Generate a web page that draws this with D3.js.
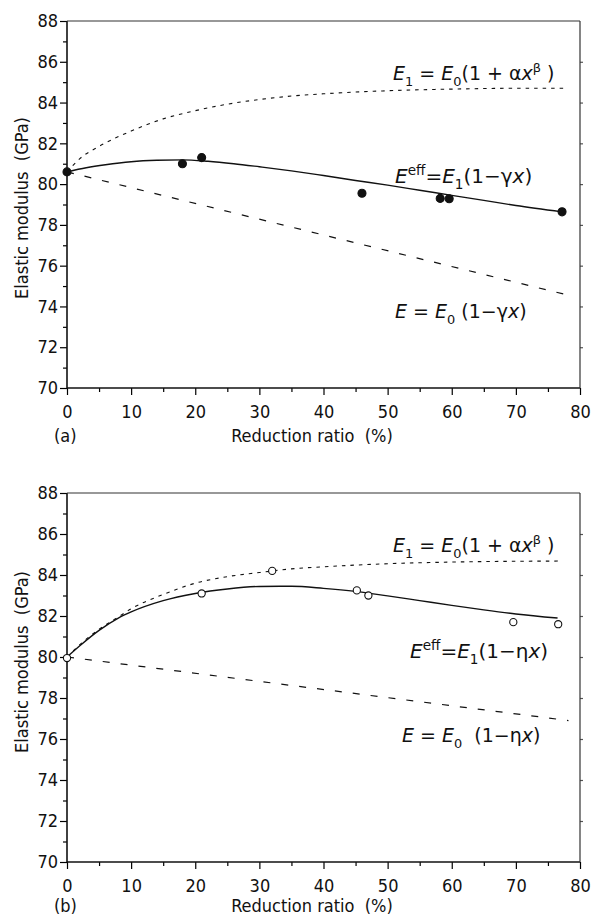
<!DOCTYPE html>
<html>
<head>
<meta charset="utf-8">
<script src="https://cdn.jsdelivr.net/npm/d3@7"></script>
<style>
  html, body { margin: 0; padding: 0; background: #fff; }
  svg { display: block; }
  .tick text, .lbl { font-family: "DejaVu Sans Condensed", "DejaVu Sans", sans-serif; font-stretch: condensed; fill: #111; }
  .eq { font-family: "DejaVu Sans", sans-serif; fill: #111; white-space: pre; }
</style>
</head>
<body>
<script>
// ---------- data ----------
const xTickValues = [0, 10, 20, 30, 40, 50, 60, 70, 80];
const yTickValues = [70, 72, 74, 76, 78, 80, 82, 84, 86, 88];
const xMinorTicks = [5, 15, 25, 35, 45, 55, 65, 75];
const yMinorTicks = [71, 73, 75, 77, 79, 81, 83, 85, 87];

// panel (a)
const aPointsX = [0, 18, 21, 46, 58.2, 59.6, 77.2];
const aPointsY = [80.6, 81.0, 81.3, 79.55, 79.3, 79.28, 78.64];
const aE1X = [0, 2, 5, 10, 15, 20, 25, 30, 35, 40, 50, 60, 70, 78];
const aE1Y = [80.6, 81.25, 81.85, 82.6, 83.2, 83.6, 83.92, 84.15, 84.32, 84.43, 84.58, 84.66, 84.7, 84.7];
const aEeffX = [0, 3, 6, 10, 14, 18, 22, 26, 30, 35, 40, 45, 50, 55, 60, 65, 70, 77.2];
const aEeffY = [80.6, 80.8, 80.95, 81.1, 81.17, 81.19, 81.12, 81.0, 80.85, 80.65, 80.42, 80.18, 79.95, 79.7, 79.45, 79.2, 78.95, 78.64];
const aEX = [0, 78.2];
const aEY = [80.6, 74.55];

// panel (b)
const bPointsX = [0, 21, 32, 45.2, 47, 69.6, 76.6];
const bPointsY = [79.95, 83.1, 84.2, 83.25, 83.0, 81.7, 81.6];
const bE1X = [0, 2, 5, 8, 10, 15, 20, 25, 30, 35, 40, 50, 60, 70, 77];
const bE1Y = [80, 80.6, 81.35, 81.95, 82.35, 83.05, 83.6, 83.92, 84.12, 84.3, 84.4, 84.55, 84.63, 84.67, 84.68];
const bEeffX = [0, 2, 5, 8, 10, 15, 20, 25, 30, 35, 40, 45, 50, 55, 60, 65, 70, 76.5];
const bEeffY = [80, 80.55, 81.3, 81.9, 82.2, 82.75, 83.1, 83.32, 83.44, 83.45, 83.35, 83.2, 82.98, 82.75, 82.52, 82.3, 82.1, 81.9];
const bEX = [0, 78.2];
const bEY = [80, 76.9];

const xTitle = "Reduction ratio  (%)";
const yTitle = "Elastic modulus  (GPa)";

// ---------- drawing ----------
const W = 593, H = 916;
const svg = d3.select("body").append("svg").attr("width", W).attr("height", H);

function zip(xs, ys) { return xs.map((x, i) => [x, ys[i]]); }

function eq(g, x, y, parts, size) {
  const t = g.append("text").attr("class", "eq").attr("x", x).attr("y", y).style("font-size", size + "px");
  let shift = 0;
  parts.forEach(p => {
    const off = p.sub ? size * 0.32 : (p.sup ? -size * 0.42 : 0);
    t.append("tspan")
      .attr("dy", off - shift)
      .style("font-size", (p.sub || p.sup ? size * 0.68 : size) + "px")
      .style("font-style", p.i ? "italic" : "normal")
      .text(p.t);
    shift = off;
  });
}

function panel(opts) {
  const { top, bottom, left, right } = opts;
  const x = d3.scaleLinear().domain([0, 80]).range([left, right]);
  const y = d3.scaleLinear().domain([70, 88]).range([bottom, top]);
  const g = svg.append("g");

  // minor ticks
  g.append("g").attr("transform", `translate(${left},0)`)
    .call(d3.axisLeft(y).tickValues(yMinorTicks).tickSize(4).tickFormat(""))
    .call(s => s.select(".domain").remove());
  g.append("g").attr("transform", `translate(0,${bottom})`)
    .call(d3.axisBottom(x).tickValues(xMinorTicks).tickSize(4).tickFormat(""))
    .call(s => s.select(".domain").remove());
  // major ticks
  const ya = g.append("g").attr("transform", `translate(${left},0)`)
    .call(d3.axisLeft(y).tickValues(yTickValues).tickSize(7).tickPadding(2).tickFormat(d3.format("d")));
  ya.select(".domain").remove();
  ya.selectAll("text").style("font-size", "18px");
  const xa = g.append("g").attr("transform", `translate(0,${bottom})`)
    .call(d3.axisBottom(x).tickValues(xTickValues).tickSize(7).tickPadding(10).tickFormat(d3.format("d")));
  xa.select(".domain").remove();
  xa.selectAll("text").style("font-size", "18px");
  // right-side small ticks
  g.append("g").attr("transform", `translate(${right},0)`)
    .call(d3.axisRight(y).tickValues(yTickValues.slice(1, -1)).tickSize(3).tickFormat(""))
    .call(s => s.select(".domain").remove())
    .selectAll("line").attr("stroke", "#555");
  g.selectAll(".tick line").attr("stroke-width", 1.2);

  // frame
  g.append("line").attr("x1", left).attr("x2", left).attr("y1", top).attr("y2", bottom).attr("stroke", "#111").attr("stroke-width", 1.6);
  g.append("line").attr("x1", left).attr("x2", right).attr("y1", bottom).attr("y2", bottom).attr("stroke", "#111").attr("stroke-width", 1.6);
  g.append("line").attr("x1", left).attr("x2", right).attr("y1", top).attr("y2", top).attr("stroke", "#333").attr("stroke-width", 1.2);
  g.append("line").attr("x1", right).attr("x2", right).attr("y1", top).attr("y2", bottom).attr("stroke", "#333").attr("stroke-width", 1.2);

  const line = d3.line().x(d => x(d[0])).y(d => y(d[1])).curve(d3.curveMonotoneX);
  g.append("path").attr("d", line(zip(opts.E1x, opts.E1y))).attr("fill", "none").attr("stroke", "#111").attr("stroke-width", 1.1).attr("stroke-dasharray", "3.5,5");
  g.append("path").attr("d", line(zip(opts.Ex, opts.Ey))).attr("fill", "none").attr("stroke", "#111").attr("stroke-width", 1.2).attr("stroke-dasharray", "7,11");
  g.append("path").attr("d", line(zip(opts.Effx, opts.Effy))).attr("fill", "none").attr("stroke", "#111").attr("stroke-width", 1.4);

  g.selectAll("circle.pt").data(zip(opts.px, opts.py)).join("circle")
    .attr("class", "pt")
    .attr("cx", d => x(d[0])).attr("cy", d => y(d[1]))
    .attr("r", opts.filled ? 4 : 3.6)
    .attr("fill", opts.filled ? "#111" : "#fff")
    .attr("stroke", "#111").attr("stroke-width", 1.1);

  // axis titles
  g.append("text").attr("class", "lbl").attr("x", x(0) - 13).attr("y", opts.titleY).style("font-size", "18px").text(opts.tag);
  g.append("text").attr("class", "lbl").attr("x", 312).attr("y", opts.titleY).attr("text-anchor", "middle").style("font-size", "18px").style("white-space", "pre").text(xTitle);
  g.append("text").attr("class", "lbl").attr("transform", `translate(28,${opts.yTitleC}) rotate(-90)`).attr("text-anchor", "middle").style("font-size", "18px").style("white-space", "pre").text(yTitle);

  return g;
}

const gA = panel({
  top: 21, bottom: 388, left: 67, right: 580,
  px: aPointsX, py: aPointsY, filled: true,
  E1x: aE1X, E1y: aE1Y, Effx: aEeffX, Effy: aEeffY, Ex: aEX, Ey: aEY,
  tag: "(a)", titleY: 442, yTitleC: 208
});
eq(gA, 393, 80, [{t:"E", i:true}, {t:"1", sub:true}, {t:" = "}, {t:"E", i:true}, {t:"0", sub:true}, {t:"(1 + α"}, {t:"x", i:true}, {t:"β", sup:true}, {t:" )"}], 19);
eq(gA, 395, 183, [{t:"E", i:true}, {t:"eff", sup:true}, {t:"="}, {t:"E", i:true}, {t:"1", sub:true}, {t:"(1−γ"}, {t:"x", i:true}, {t:")"}], 20);
eq(gA, 395, 318, [{t:"E", i:true}, {t:" = "}, {t:"E", i:true}, {t:"0", sub:true}, {t:" (1−γ"}, {t:"x", i:true}, {t:")"}], 19);

const gB = panel({
  top: 493, bottom: 862, left: 67, right: 580,
  px: bPointsX, py: bPointsY, filled: false,
  E1x: bE1X, E1y: bE1Y, Effx: bEeffX, Effy: bEeffY, Ex: bEX, Ey: bEY,
  tag: "(b)", titleY: 912, yTitleC: 662
});
eq(gB, 393, 552, [{t:"E", i:true}, {t:"1", sub:true}, {t:" = "}, {t:"E", i:true}, {t:"0", sub:true}, {t:"(1 + α"}, {t:"x", i:true}, {t:"β", sup:true}, {t:" )"}], 19);
eq(gB, 410, 658, [{t:"E", i:true}, {t:"eff", sup:true}, {t:"="}, {t:"E", i:true}, {t:"1", sub:true}, {t:"(1−η"}, {t:"x", i:true}, {t:")"}], 20);
eq(gB, 402, 742, [{t:"E", i:true}, {t:" = "}, {t:"E", i:true}, {t:"0", sub:true}, {t:"  (1−η"}, {t:"x", i:true}, {t:")"}], 19);
</script>
</body>
</html>
